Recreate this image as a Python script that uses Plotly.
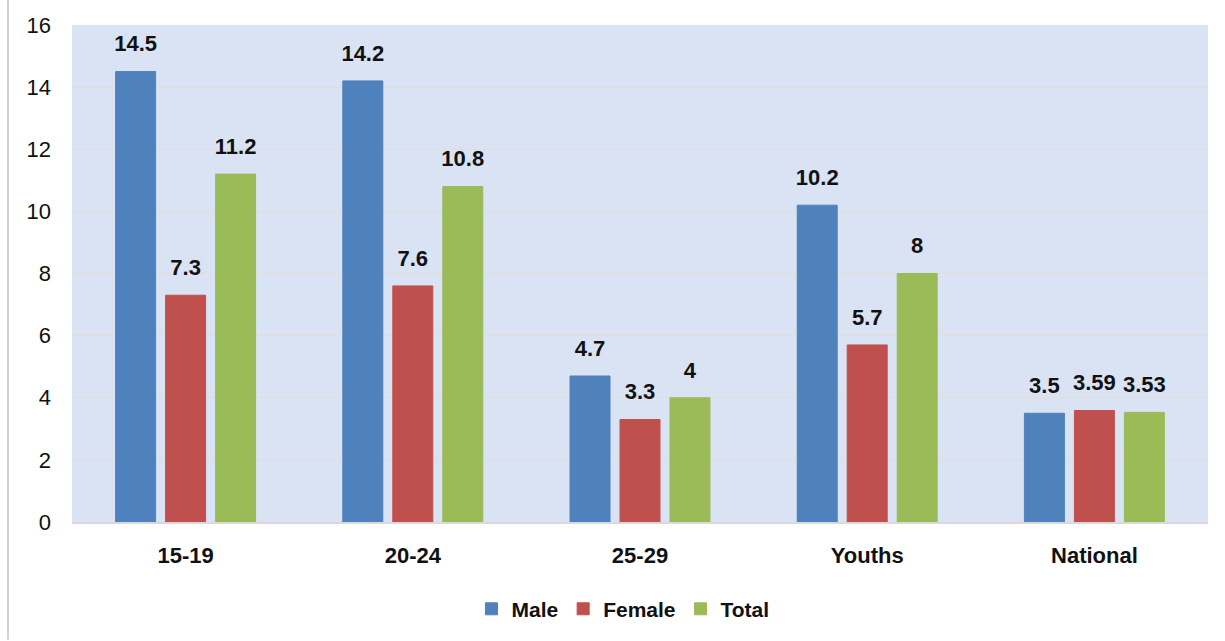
import plotly.graph_objects as go

categories = ["15-19", "20-24", "25-29", "Youths", "National"]
male = [14.5, 14.2, 4.7, 10.2, 3.5]
female = [7.3, 7.6, 3.3, 5.7, 3.59]
total = [11.2, 10.8, 4, 8, 3.53]
y_ticks = [0, 2, 4, 6, 8, 10, 12, 14, 16]

series = [
    ("Male", male, "#4f81bd"),
    ("Female", female, "#c0504d"),
    ("Total", total, "#9bbb59"),
]

FONT = "Liberation Sans, Arial, sans-serif"
label_font = dict(family=FONT, size=22, color="#111111", weight="bold")

fig = go.Figure()
for name, vals, color in series:
    fig.add_trace(go.Bar(
        name=name,
        x=categories,
        y=vals,
        offsetgroup=name,
        marker=dict(color=color, line=dict(color=color, width=1)),
    ))

# value labels, grouped the same way as the bars
for name, vals, color in series:
    fig.add_trace(go.Scatter(
        x=categories,
        y=vals,
        offsetgroup=name,
        mode="markers+text",
        marker=dict(size=22, color="rgba(0,0,0,0)"),
        text=[f"{v:g}" for v in vals],
        textposition="top center",
        textfont=label_font,
        showlegend=False,
        hoverinfo="skip",
        cliponaxis=False,
    ))

fig.update_layout(
    width=1225,
    height=641,
    barmode="group",
    bargap=0.34,
    bargroupgap=0.2,
    scattermode="group",
    scattergap=0.34,
    plot_bgcolor="#dae3f3",
    paper_bgcolor="white",
    margin=dict(l=72, r=17, t=25, b=118),
    font=dict(family=FONT, color="#111111"),
    legend=dict(
        orientation="h",
        x=0.485, xanchor="center",
        y=-0.173, yanchor="middle",
        font=dict(family=FONT, size=21, color="#111111", weight="bold"),
        itemwidth=30,
        traceorder="normal",
    ),
    showlegend=True,
)

fig.update_yaxes(
    range=[0, 16],
    tickvals=y_ticks,
    showgrid=True,
    gridcolor="#e3ddd6",
    gridwidth=1,
    zeroline=False,
    showline=False,
    tickfont=dict(family=FONT, size=22, color="#111111"),
    ticklabelstandoff=20,
)
fig.update_xaxes(
    showline=True,
    linecolor="#d9d9d9",
    linewidth=2,
    tickfont=dict(family=FONT, size=22, color="#111111", weight="bold"),
    ticklabelstandoff=13,
)

# thin gray rule along the left edge of the page
fig.add_shape(
    type="line", xref="paper", yref="paper",
    x0=(8 - 72) / 1136, x1=(8 - 72) / 1136,
    y0=-118 / 498, y1=1 + 25 / 498,
    line=dict(color="#d0d0d0", width=2),
)

fig.write_html("out.html")
